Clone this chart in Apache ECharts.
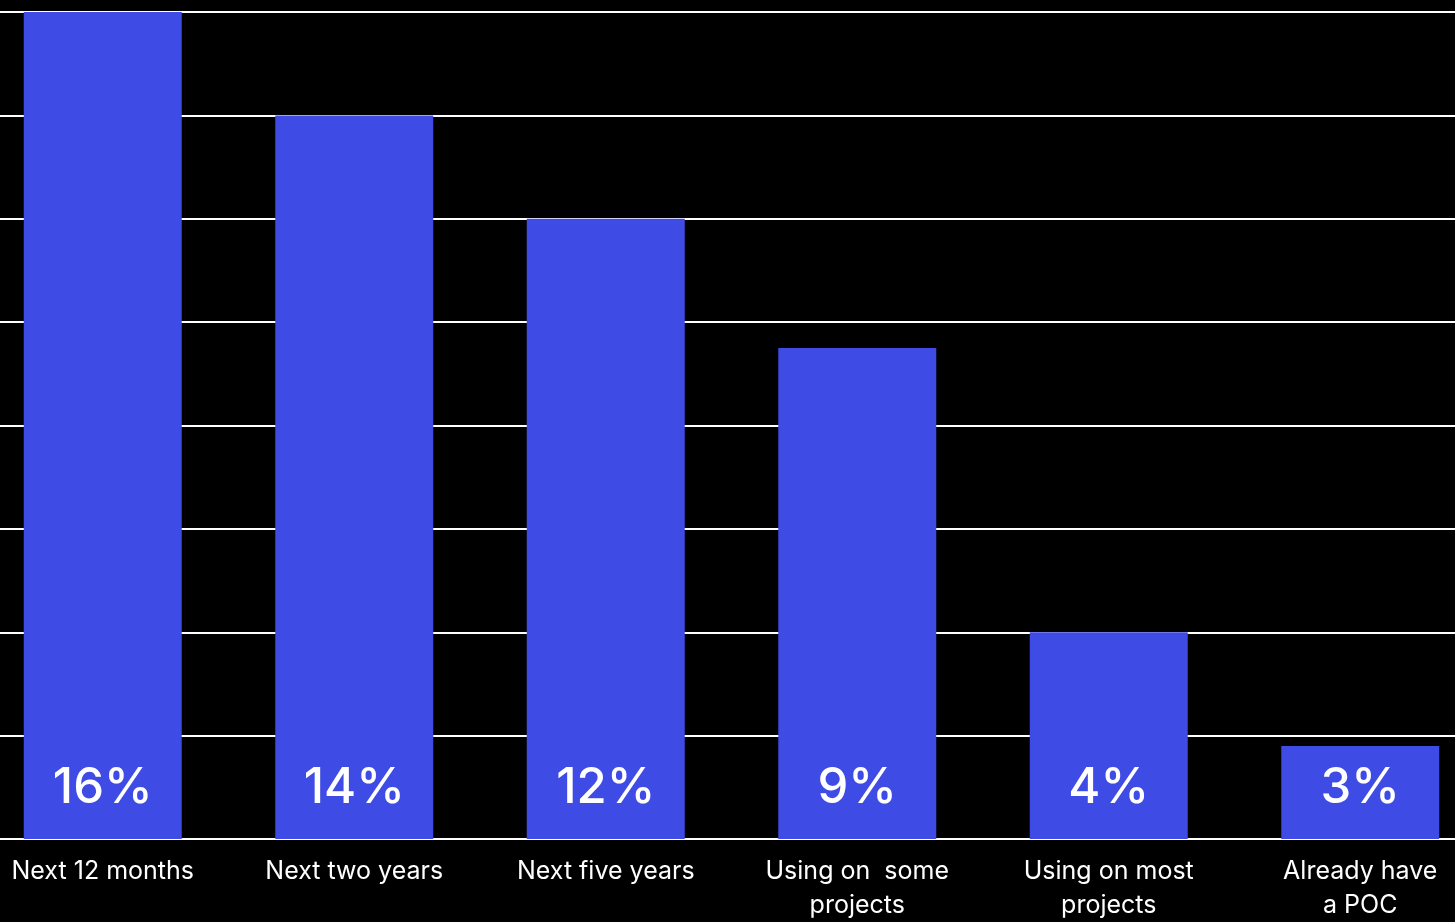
<!DOCTYPE html>
<html>
<head>
<meta charset="utf-8">
<style>
  html, body { margin: 0; padding: 0; background: #000; overflow: hidden; width: 1455px; height: 922px; }
  #chart { position: absolute; left: -23px; top: 0; width: 1509px; height: 922px; }
</style>
<script src="https://cdn.jsdelivr.net/npm/echarts@6/dist/echarts.min.js"></script>
</head>
<body>
<div id="chart"></div>
<script>
const categories = ['Next 12 months', 'Next two years', 'Next five years', 'Using on  some\nprojects', 'Using on most\nprojects', 'Already have\na POC'];
const barValues = [16, 14, 12, 9.5, 4, 1.8];
const valueLabels = ['16%', '14%', '12%', '9%', '4%', '3%'];
const yTicks = [0, 2, 4, 6, 8, 10, 12, 14, 16];

const chart = echarts.init(document.getElementById('chart'), null, { renderer: 'canvas' });
chart.setOption({
  backgroundColor: '#000000',
  animation: false,
  grid: { left: 0, right: 0, top: 12, height: 829, containLabel: false },
  xAxis: {
    type: 'category',
    data: categories,
    axisLine: { show: true, lineStyle: { color: '#ffffff', width: 2 } },
    axisTick: { show: false },
    axisLabel: {
      color: '#ffffff',
      fontFamily: 'Inter',
      fontSize: 25,
      lineHeight: 34,
      margin: 15,
      interval: 0
    }
  },
  yAxis: {
    type: 'value',
    min: yTicks[0],
    max: yTicks[yTicks.length - 1],
    interval: 2,
    axisLine: { show: false },
    axisTick: { show: false },
    axisLabel: { show: false },
    splitLine: { show: true, lineStyle: { color: '#ffffff', width: 2 } }
  },
  series: [{
    type: 'bar',
    data: barValues,
    barWidth: 158,
    itemStyle: { color: '#3E4BE5' },
    label: {
      show: true,
      position: 'insideBottom',
      distance: 26,
      color: '#ffffff',
      fontFamily: 'Inter',
      fontSize: 49,
      fontWeight: 500,
      formatter: p => valueLabels[p.dataIndex]
    }
  }]
});
</script>
</body>
</html>
